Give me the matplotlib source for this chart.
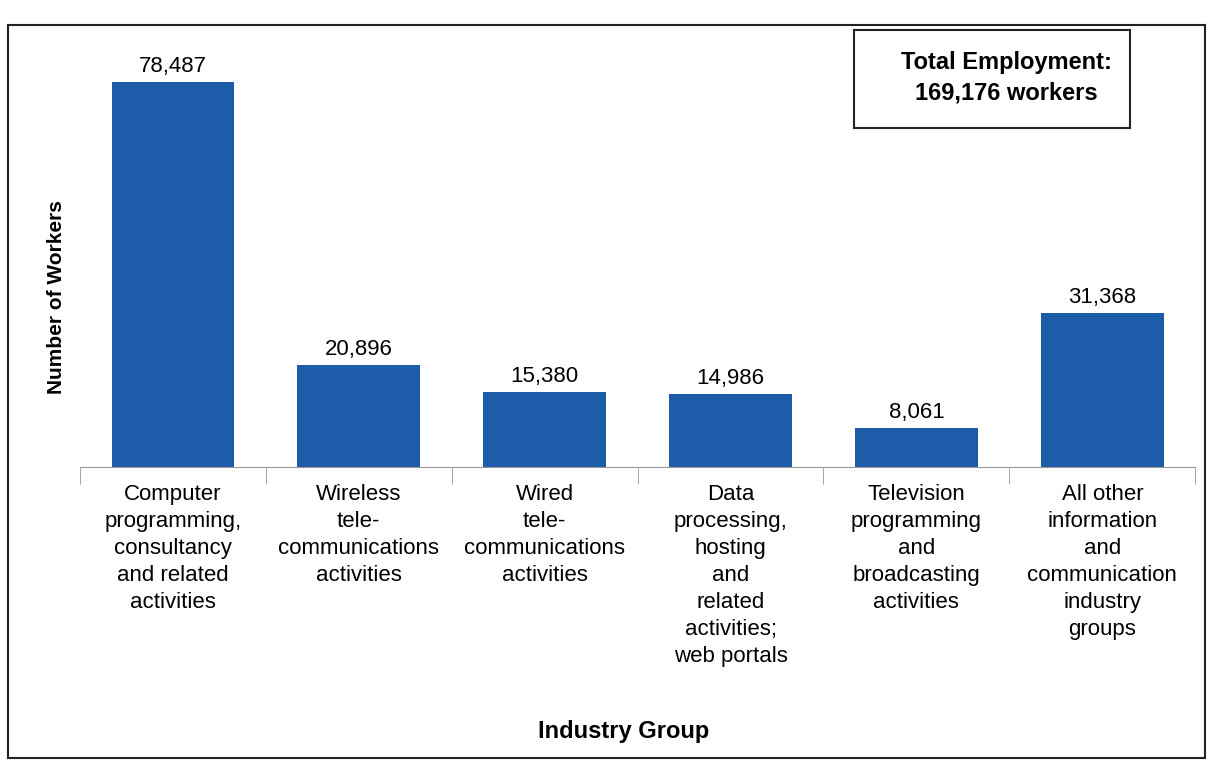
import numpy as np
import matplotlib.pyplot as plt
from matplotlib.patches import Rectangle

plt.rcParams['font.family'] = ['Liberation Sans', 'DejaVu Sans']

# Data
categories = ['Computer\nprogramming,\nconsultancy\nand related\nactivities',
              'Wireless\ntele-\ncommunications\nactivities',
              'Wired\ntele-\ncommunications\nactivities',
              'Data\nprocessing,\nhosting\nand\nrelated\nactivities;\nweb portals',
              'Television\nprogramming\nand\nbroadcasting\nactivities',
              'All other\ninformation\nand\ncommunication\nindustry\ngroups']
workers = [78487, 20896, 15380, 14986, 8061, 31368]
total_text = 'Total Employment:\n169,176 workers'

fig = plt.figure(figsize=(12.11, 7.62), dpi=100)
ax = fig.add_axes([0.066, 0.387, 0.921, 0.567])

x = np.arange(len(categories))
bars = ax.bar(x, workers, width=0.66, color='#1c5ca8')

for xi, v in zip(x, workers):
    ax.text(xi, v + 1000, f'{v:,}', ha='center', va='bottom', fontsize=16)

ax.set_xlim(-0.5, len(categories) - 0.5)
ax.set_ylim(0, 88000)
ax.set_yticks([])
ax.set_xticks(x)
ax.set_xticklabels(categories, fontsize=16, linespacing=1.38)
ax.tick_params(axis='x', length=0, pad=12)
ax.set_xticks(np.arange(-0.5, len(categories)), minor=True)
ax.tick_params(axis='x', which='minor', length=12, color='#999999')
for s in ['top', 'right', 'left']:
    ax.spines[s].set_visible(False)
ax.spines['bottom'].set_color('#999999')

fig.text(0.047, 0.61, 'Number of Workers', rotation=90, ha='center', va='center',
         fontsize=15, fontweight='bold')
fig.text(0.515, 0.04, 'Industry Group', ha='center', va='center',
         fontsize=17, fontweight='bold')

# outer frame
fig.patches.append(Rectangle((0.007, 0.005), 0.988, 0.962, transform=fig.transFigure,
                             fill=False, edgecolor='#222222', linewidth=1.5))
# total box
fig.patches.append(Rectangle((0.705, 0.832), 0.228, 0.128, transform=fig.transFigure,
                             fill=False, edgecolor='#222222', linewidth=1.5))
fig.text(0.831, 0.898, total_text, ha='center', va='center', fontsize=17,
         fontweight='bold', linespacing=1.45)

fig.savefig('out.png', dpi=100)
